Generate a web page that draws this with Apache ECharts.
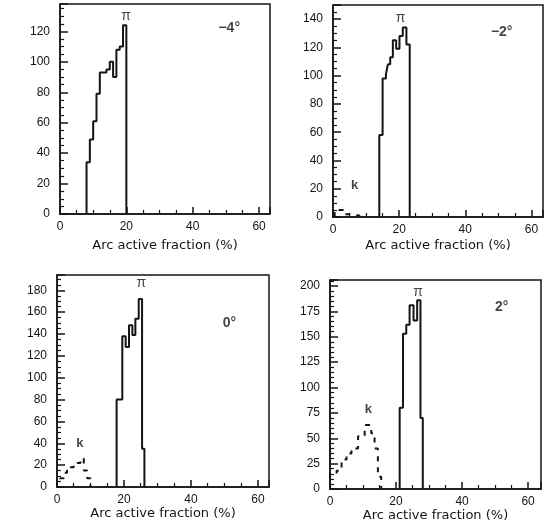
<!DOCTYPE html>
<html>
<head>
<meta charset="utf-8">
<script src="https://cdn.jsdelivr.net/npm/echarts@6/dist/echarts.min.js"></script>
<style>
html,body{margin:0;padding:0;background:#fff;}
#c{width:546px;height:531px;}
</style>
</head>
<body>
<div id="c"></div>
<script>
// ---- Data (bin edges in %, counts) ----
const panelAngles = ['\u22124\u00b0', '\u22122\u00b0', '0\u00b0', '2\u00b0'];
const xName = 'Arc active fraction (%)';
const xTicks = [0, 20, 40, 60];

// -4 deg
const piEdges1 = [8, 9, 10, 11, 12, 13, 14, 15, 16, 17, 18, 19, 20];
const piCounts1 = [34, 49, 61, 79, 93, 93, 95, 100, 90, 108, 110, 124];
// -2 deg
const piEdges2 = [14, 15, 16, 16.6, 17.3, 18.1, 19.1, 20.1, 21.1, 22.2, 23.2];
const piCounts2 = [58, 98, 101, 108, 113, 125, 119, 128, 134, 122];
const kEdges2 = [0.5, 1.5, 2.5, 3.5, 5, 8];
const kCounts2 = [5, 5, 5, 2, 1];
// 0 deg
const piEdges3 = [17.8, 19.5, 20.5, 21.5, 22.5, 23.4, 24.4, 25.4, 26.1];
const piCounts3 = [80, 138, 128, 148, 139, 154, 172, 35];
const kEdges3 = [0, 1, 2, 3, 4, 5, 6, 7, 8, 9, 10];
const kCounts3 = [6, 8, 13, 15, 18, 20, 22, 26, 15, 8];
// 2 deg
const piEdges4 = [21.1, 22.1, 23.1, 24.1, 25.3, 26.4, 27.4, 28.1];
const piCounts4 = [80, 153, 162, 181, 166, 186, 70];
const kEdges4 = [0, 2, 3.5, 5, 6.5, 8.5, 10.5, 12.5, 13.5, 14.5, 15.5];
const kCounts4 = [15, 18, 29, 35, 40, 52, 63, 55, 40, 12];

// axis ranges / tick intervals
const yMax = [138, 150, 194, 206];
const yInterval = [20, 20, 20, 25];
const yMinorSplit = [4, 4, 4, 5];
const xMax = [63.3, 63.5, 63.3, 63.9];

// label anchor positions (data coords)
const piLabelPos = [[19.9, 130], [20.4, 141], [25.2, 187], [26.7, 194]];
const angleLabelPos = [[51, 122], [51, 131], [51.5, 150], [52, 179]];
const kLabelPos = [null, [6.5, 22], [6.8, 40], [11.6, 78]];

// grid placement in pixels
const grids = [
  {left: 60, top: 4, width: 210, height: 210},
  {left: 333, top: 5, width: 212, height: 212},
  {left: 57, top: 275, width: 212, height: 212},
  {left: 330, top: 280, width: 211, height: 209}
];
const nameGaps = [25, 22, 16, 14];

function steps(edges, counts) {
  const pts = [[edges[0], 0]];
  for (let i = 0; i < counts.length; i++) {
    pts.push([edges[i], counts[i]]);
    pts.push([edges[i + 1], counts[i]]);
  }
  pts.push([edges[edges.length - 1], 0]);
  return pts;
}

const piSets = [[piEdges1, piCounts1], [piEdges2, piCounts2], [piEdges3, piCounts3], [piEdges4, piCounts4]];
const kSets = [null, [kEdges2, kCounts2], [kEdges3, kCounts3], [kEdges4, kCounts4]];

const FONT = "'Liberation Sans', Arial, sans-serif";
const NAMEFONT = "'DejaVu Sans', 'Liberation Sans', sans-serif";
const INK = '#141414';

const option = {
  backgroundColor: '#ffffff',
  animation: false,
  grid: grids.map(g => Object.assign({show: true, borderColor: INK, borderWidth: 1.5, backgroundColor: 'transparent'}, g)),
  xAxis: grids.map((g, i) => ({
    type: 'value', gridIndex: i, min: 0, max: xMax[i], interval: 20,
    name: xName, nameLocation: 'middle', nameGap: nameGaps[i],
    nameTextStyle: {fontFamily: NAMEFONT, fontSize: 13, color: INK},
    axisLine: {show: true, lineStyle: {color: INK, width: 1.5}},
    axisTick: {show: true, inside: true, length: 7, lineStyle: {color: INK, width: 1.5}},
    minorTick: {show: true, splitNumber: 4, length: 4, lineStyle: {color: INK, width: 1.2}},
    splitLine: {show: false},
    axisLabel: {fontFamily: FONT, fontSize: 12, color: INK, margin: 7,
      formatter: v => (xTicks.indexOf(v) >= 0 ? String(v) : '')}
  })),
  yAxis: grids.map((g, i) => ({
    type: 'value', gridIndex: i, min: 0, max: yMax[i], interval: yInterval[i],
    axisLine: {show: true, lineStyle: {color: INK, width: 1.5}},
    axisTick: {show: true, inside: true, length: 8, lineStyle: {color: INK, width: 1.5}},
    minorTick: {show: true, splitNumber: yMinorSplit[i], length: 4, lineStyle: {color: INK, width: 1.2}},
    splitLine: {show: false},
    axisLabel: {fontFamily: FONT, fontSize: 12, color: INK, margin: 10,
      formatter: v => (v % yInterval[i] === 0 ? String(v) : '')}
  })),
  series: []
};

piSets.forEach((s, i) => {
  option.series.push({
    type: 'line', xAxisIndex: i, yAxisIndex: i, data: steps(s[0], s[1]),
    showSymbol: false, symbol: 'none', lineStyle: {color: INK, width: 2}, z: 5
  });
});
kSets.forEach((s, i) => {
  if (!s) return;
  option.series.push({
    type: 'line', xAxisIndex: i, yAxisIndex: i, data: steps(s[0], s[1]),
    showSymbol: false, symbol: 'none', lineStyle: {color: INK, width: 2, type: [5, 6]}, z: 5
  });
});

function textSeries(i, pos, txt, size, weight) {
  return {
    type: 'scatter', xAxisIndex: i, yAxisIndex: i, symbolSize: 0, silent: true,
    data: [{value: pos, name: txt}],
    label: {show: true, position: 'inside', formatter: '{b}', fontFamily: FONT,
      fontSize: size, fontWeight: weight, color: INK}
  };
}
for (let i = 0; i < 4; i++) {
  option.series.push(textSeries(i, piLabelPos[i], '\u03c0', 14, 'normal'));
  option.series.push(textSeries(i, angleLabelPos[i], panelAngles[i], 14, 'bold'));
  if (kLabelPos[i]) option.series.push(textSeries(i, kLabelPos[i], 'k', 13, 'bold'));
}

const chart = echarts.init(document.getElementById('c'), null, {renderer: 'canvas'});
chart.setOption(option);
</script>
</body>
</html>
